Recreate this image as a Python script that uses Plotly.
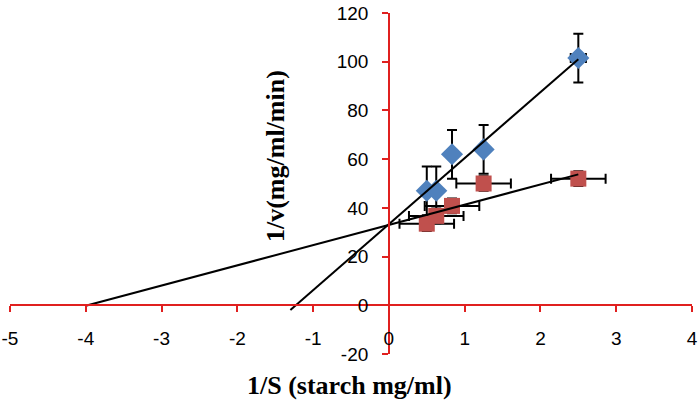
import plotly.graph_objects as go

# Data
inv_s = [0.5, 0.625, 0.833, 1.25, 2.5]
blue_inv_v = [47.0, 47.0, 62.0, 64.0, 101.5]
blue_err_y = [10, 10, 10, 10, 10]
blue_err_x = [0.05, 0.05, 0.05, 0.05, 0.1]
red_inv_v = [33.5, 36.7, 40.8, 50.0, 52.0]
red_err_y = [3, 3, 3, 3, 3]
red_err_x = [0.36, 0.36, 0.36, 0.36, 0.36]

# Trend lines (slope, intercept) and x extent
blue_fit = (27.1, 33.3)
blue_x_range = [-1.3, 2.5]
red_fit = (8.3, 33.0)
red_x_range = [-4.0, 2.5]

x_ticks = [-5, -4, -3, -2, -1, 0, 1, 2, 3, 4]
x_tick_labels = ["-5", "-4", "-3", "-2", "-1", "0", "1", "2", "3", "4"]
y_ticks = [-20, 0, 20, 40, 60, 80, 100, 120]
y_tick_labels = ["-20", "0", "20", "40", "60", "80", "100", "120"]

BLUE = "#4F81BD"
RED = "#C0504D"
AXIS_RED = "#E0201F"

fig = go.Figure()

fig.add_trace(go.Scatter(
    x=inv_s, y=blue_inv_v, mode="markers",
    marker=dict(symbol="diamond", size=17, color=BLUE),
    error_y=dict(type="data", array=blue_err_y, color="black", thickness=2, width=5),
    error_x=dict(type="data", array=blue_err_x, color="black", thickness=2, width=5),
    showlegend=False,
))
fig.add_trace(go.Scatter(
    x=inv_s, y=red_inv_v, mode="markers",
    marker=dict(symbol="square", size=16, color=RED),
    error_y=dict(type="data", array=red_err_y, color="black", thickness=2, width=5),
    error_x=dict(type="data", array=red_err_x, color="black", thickness=2, width=5),
    showlegend=False,
))

for fit, xr in [(blue_fit, blue_x_range), (red_fit, red_x_range)]:
    m, b = fit
    fig.add_trace(go.Scatter(
        x=xr, y=[m * v + b for v in xr], mode="lines",
        line=dict(color="black", width=2), showlegend=False,
    ))

tickfont = dict(family="Liberation Sans, Arial, sans-serif", size=19, color="black")

fig.update_layout(
    width=698, height=403,
    margin=dict(l=10, r=6, t=13, b=49, autoexpand=False),
    paper_bgcolor="white", plot_bgcolor="white",
    xaxis=dict(
        range=[-5, 4], tickmode="array", tickvals=x_ticks, ticktext=x_tick_labels,
        showgrid=False, zeroline=False, automargin=False,
        showline=True, linecolor=AXIS_RED, linewidth=1.5,
        ticks="outside", tickcolor=AXIS_RED, ticklen=6, tickwidth=1.5,
        anchor="free", position=20 / 140, tickfont=tickfont,
        ticklabeloverflow="allow", ticklabelstandoff=10,
    ),
    yaxis=dict(
        range=[-20, 120], tickmode="array", tickvals=y_ticks, ticktext=y_tick_labels,
        showgrid=False, zeroline=False, automargin=False,
        showline=True, linecolor=AXIS_RED, linewidth=1.5,
        ticks="outside", tickcolor=AXIS_RED, ticklen=6, tickwidth=1.5,
        anchor="free", position=5 / 9, tickfont=tickfont,
        ticklabeloverflow="allow", ticklabelstandoff=10,
    ),
    annotations=[
        dict(text="<b>1/S (starch mg/ml)</b>", xref="paper", yref="paper",
             x=0.4985, y=-0.091, xanchor="center", yanchor="middle", showarrow=False,
             font=dict(family="Liberation Serif, Times New Roman, serif", size=26, color="black")),
        dict(text="<b>1/v(mg/ml/min)</b>", xref="paper", yref="paper",
             x=0.3886, y=0.5806, xanchor="center", yanchor="middle", showarrow=False,
             textangle=-90,
             font=dict(family="Liberation Serif, Times New Roman, serif", size=26, color="black")),
    ],
)

fig.write_html("out.html")
